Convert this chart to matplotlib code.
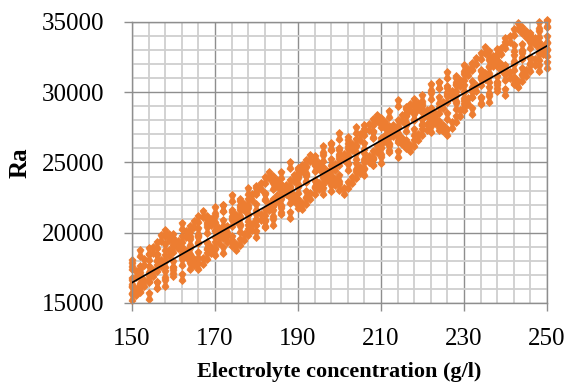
import matplotlib
matplotlib.use("Agg")
import matplotlib.pyplot as plt
from matplotlib.path import Path
from matplotlib.ticker import MultipleLocator

plt.rcParams['font.family'] = ['Liberation Serif', 'DejaVu Serif']

# concentration grids (g/l)
conc_fine = [150, 151, 152, 153, 154, 155, 156, 157, 158, 159,
             160, 161, 162, 163, 164, 165, 166, 167, 168, 169,
             170, 171, 172, 173, 174, 175, 176, 177, 178, 179,
             180, 181, 182, 183, 184, 185, 186, 187, 188, 189,
             190, 191, 192, 193, 194, 195, 196, 197, 198, 199,
             200, 201, 202, 203, 204, 205, 206, 207, 208, 209,
             210, 211, 212, 213, 214, 215, 216, 217, 218, 219,
             220, 221, 222, 223, 224, 225, 226, 227, 228, 229,
             230, 231, 232, 233, 234, 235, 236, 237, 238, 239,
             240, 241, 242, 243, 244, 245, 246, 247, 248, 249, 250]
conc_coarse = [150, 152, 154, 156, 158, 160, 162, 164, 166, 168,
               170, 172, 174, 176, 178, 180, 182, 184, 186, 188,
               190, 192, 194, 196, 198, 200, 202, 204, 206, 208,
               210, 212, 214, 216, 218, 220, 222, 224, 226, 228,
               230, 232, 234, 236, 238, 240, 242, 244, 246, 248, 250]

# dense runs
ra_run_a = [16600, 17050, 17450, 17900, 18300, 18750, 19150, 19600, 20000, 19700,
            19400, 19100, 18800, 18500, 18200, 17900, 17600, 17980, 18360, 18750,
            19130, 19510, 19890, 20280, 20660, 21040, 21420, 21800, 22190, 22570,
            22950, 23330, 23720, 24100, 23830, 23550, 23280, 23000, 22730, 22450,
            22180, 21900, 22250, 22600, 22950, 23300, 23650, 24000, 24350, 24700,
            25050, 25400, 25750, 26100, 26450, 26800, 27150, 27500, 27850, 28200,
            27930, 27650, 27380, 27100, 26830, 26550, 26280, 26000, 26390, 26780,
            27170, 27560, 27940, 28330, 28720, 29110, 29500, 29890, 30280, 30670,
            31060, 31440, 31830, 32220, 32610, 33000, 32700, 32400, 32100, 31800,
            31500, 31200, 30900, 30600, 30990, 31370, 31760, 32140, 32530, 32910, 33300]
ra_run_b = [15400, 15750, 16100, 16450, 16800, 17140, 17490, 17840, 18180, 18530,
            18870, 19220, 19570, 19910, 20260, 20600, 20950, 21300, 21010, 20730,
            20440, 20150, 19860, 19580, 19290, 19000, 19350, 19700, 20050, 20400,
            20750, 21100, 21450, 21800, 22150, 22500, 22850, 23200, 23550, 23900,
            24250, 24600, 24950, 25300, 25010, 24730, 24440, 24150, 23860, 23580,
            23290, 23000, 23370, 23740, 24110, 24480, 24850, 25220, 25590, 25960,
            26340, 26710, 27080, 27450, 27820, 28190, 28560, 28930, 29300, 29040,
            28780, 28510, 28250, 27990, 27730, 27460, 27200, 27640, 28080, 28520,
            28960, 29410, 29850, 30290, 30730, 31170, 31610, 32050, 32500, 32940,
            33380, 33820, 34260, 34700, 34430, 34160, 33890, 33620, 33340, 33070, 32800]

# sparse runs (dotted strokes)
ra_run_c = [15910, 16670, 17430, 18190, 18950, 19710, 20470, 20010, 19550, 19080,
            18620, 18770, 19530, 20290, 21050, 21810, 22570, 23330, 24090, 24850,
            24390, 23930, 23460, 23000, 23150, 23910, 24670, 25430, 26190, 26950,
            27710, 28470, 29230, 28770, 28310, 27850, 27380, 27530, 28290, 29050,
            29810, 30570, 31330, 32090, 32850, 33620, 33150, 32690, 32230, 31760, 31910]
ra_run_d = [17820, 18580, 18720, 18260, 17800, 17340, 16870, 17630, 18390, 19150,
            19910, 20680, 21440, 22200, 22960, 23110, 22640, 22180, 21720, 21250,
            22010, 22770, 23540, 24300, 25060, 25820, 26580, 27340, 27490, 27020,
            26560, 26100, 25630, 26400, 27160, 27920, 28680, 29440, 30200, 30960,
            31720, 31870, 31400, 30940, 30480, 30020, 30780, 31540, 32300, 33060, 33820]
ra_run_e = [17650, 17190, 16720, 16260, 16410, 17170, 17930, 18690, 19450, 20210,
            20970, 21730, 22490, 22030, 21570, 21110, 20640, 20790, 21550, 22310,
            23070, 23830, 24590, 25350, 26110, 26880, 26410, 25950, 25490, 25020,
            25170, 25930, 26690, 27450, 28210, 28970, 29740, 30500, 31260, 30790,
            30330, 29870, 29400, 29550, 30310, 31070, 31830, 32600, 33360, 34120, 34880]
ra_run_f = [16450, 15990, 15520, 16290, 17050, 17810, 18570, 19330, 20090, 20850,
            21610, 21760, 21290, 20830, 20370, 19910, 20670, 21430, 22190, 22950,
            23710, 24470, 25230, 25990, 26140, 25680, 25210, 24750, 24290, 25050,
            25810, 26570, 27330, 28090, 28850, 29610, 30370, 30520, 30060, 29590,
            29130, 28670, 29430, 30190, 30950, 31710, 32470, 33230, 33990, 34750, 34900]

# linear trendline end points
trend_x = [150, 250]
trend_y = [16450, 33300]

# double-diamond marker like the stacked excel points
pair_marker = Path([(0, 1), (0.5, 0.5), (0.22, 0), (0.5, -0.5), (0, -1),
                    (-0.5, -0.5), (-0.22, 0), (-0.5, 0.5), (0, 1)], closed=True)
orange = '#ED7D31'

fig, ax = plt.subplots(figsize=(5.67, 3.85), dpi=100)
fig.subplots_adjust(left=0.2328, right=0.9647, top=0.9429, bottom=0.213)

for ys in [ra_run_a, ra_run_b]:
    ax.plot(conc_fine, ys, ls='none', marker=pair_marker, ms=10, color=orange,
            mec=orange, mew=0.6, clip_on=False)
for ys in [ra_run_c, ra_run_d, ra_run_e, ra_run_f]:
    ax.plot(conc_coarse, ys, ls='none', marker=pair_marker, ms=10, color=orange,
            mec=orange, mew=0.6, clip_on=False)
ax.plot(trend_x, trend_y, color='black', lw=1.2, zorder=5)

ax.set_xlim(150, 250)
ax.set_ylim(15000, 35000)
ax.xaxis.set_major_locator(MultipleLocator(20, offset=10))
ax.xaxis.set_minor_locator(MultipleLocator(4, offset=2))
ax.yaxis.set_major_locator(MultipleLocator(5000))
ax.yaxis.set_minor_locator(MultipleLocator(1000))
ax.set_axisbelow(True)
ax.grid(which='minor', color='#cfcfcf', lw=1.3)
ax.grid(which='major', color='#8e8e8e', lw=1.0)
for sp in ax.spines.values():
    sp.set_color('#8e8e8e')
    sp.set_linewidth(1.0)
ax.tick_params(which='major', direction='out', length=6, width=1, color='#8e8e8e',
               labelsize=18)
ax.tick_params(axis='x', which='major', pad=12)
ax.tick_params(axis='y', which='major', pad=14)
ax.tick_params(which='minor', length=0)

ax.set_xlabel('Electrolyte concentration (g/l)', fontsize=16, fontweight='bold')
ax.set_ylabel('Ra', fontsize=18, fontweight='bold')
ax.xaxis.set_label_coords(0.5, -0.245)
ax.xaxis.label.set_va('center')
ax.yaxis.set_label_coords(-0.27, 0.5)
ax.yaxis.label.set_va('center')

fig.savefig('out.png', dpi=100)
